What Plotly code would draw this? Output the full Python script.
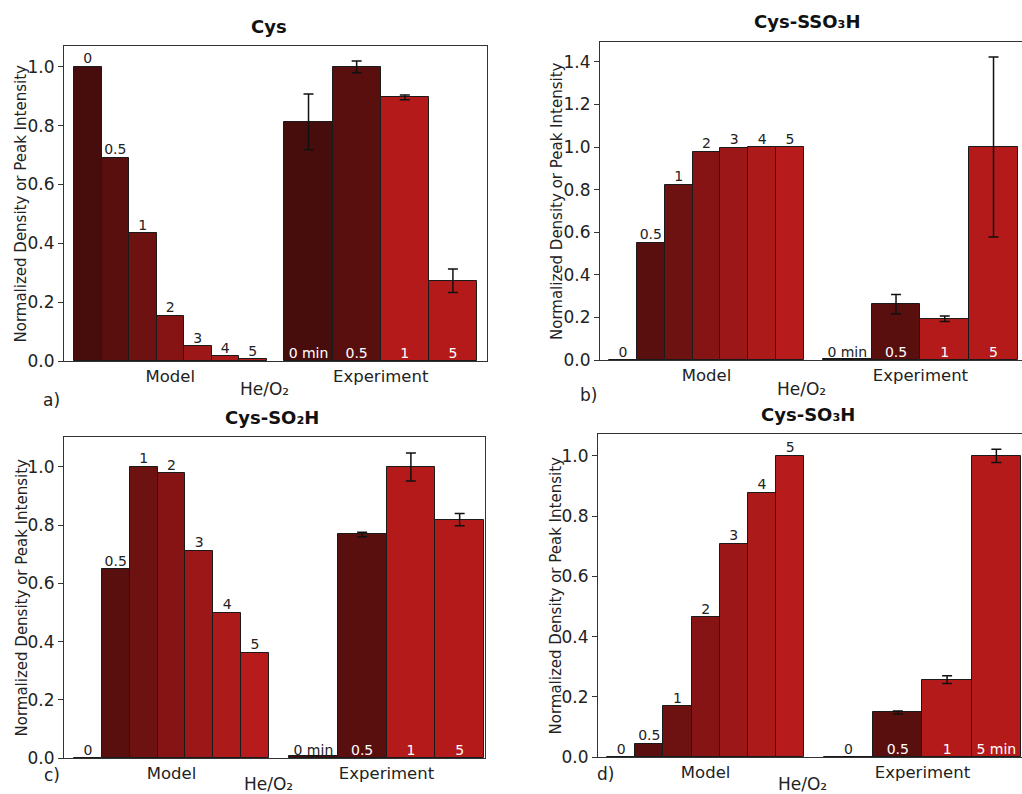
import plotly.graph_objects as go

# ---------------- data ----------------
model_labels = ["0", "0.5", "1", "2", "3", "4", "5"]
exp_labels_abc = ["0 min", "0.5", "1", "5"]
exp_labels_d = ["0", "0.5", "1", "5 min"]
group_labels = ["Model", "Experiment"]

cys_model = [1.0, 0.691, 0.434, 0.154, 0.050, 0.016, 0.006]
cys_exp = [0.813, 1.0, 0.896, 0.273]
cys_err = [0.095, 0.02, 0.008, 0.04]

sso3h_model = [0.0, 0.55, 0.823, 0.978, 0.997, 1.0, 1.0]
sso3h_exp = [0.004, 0.262, 0.194, 1.0]
sso3h_err = [float("nan"), 0.045, 0.013, 0.423]

so2h_model = [0.0, 0.648, 1.0, 0.978, 0.713, 0.499, 0.362]
so2h_exp = [0.008, 0.768, 1.0, 0.819]
so2h_err = [float("nan"), 0.008, 0.048, 0.021]

so3h_model = [0.0, 0.044, 0.168, 0.465, 0.708, 0.878, 1.0]
so3h_exp = [0.0, 0.148, 0.257, 1.0]
so3h_err = [float("nan"), 0.005, 0.013, 0.022]

# ---------------- style ----------------
model_colors = ["#470c0c", "#5a0f0f", "#6d1111", "#861414", "#9c1717", "#ad1a1a", "#b71b1b"]
exp_colors = ["#470c0c", "#5a0f0f", "#b41a1a", "#b41a1a"]
FONT = "DejaVu Sans"
TXT = "#222222"
W, H = 1022, 794


def fx(px):
    return px / W


def fy(py):
    return 1 - py / H


panels = [
    dict(title="Cys", model=cys_model, exp=cys_exp, err=cys_err, elab=exp_labels_abc,
         ymax=1.071, ticks=[0.0, 0.2, 0.4, 0.6, 0.8, 1.0], gap=0.093, xr=[-0.052, 2.145],
         dom_x=(64, 487), dom_y=(46, 361), tpos=(269, 26), letter="a)", lpos=(51, 400),
         hpos=(264, 389), ytx=21),
    dict(title="Cys-SSO₃H", model=sso3h_model, exp=sso3h_exp, err=sso3h_err, elab=exp_labels_abc,
         ymax=1.493, ticks=[0.0, 0.2, 0.4, 0.6, 0.8, 1.0, 1.2, 1.4], gap=0.097, xr=[-0.046, 2.118],
         dom_x=(600, 1022), dom_y=(42, 360), tpos=(807, 22), letter="b)", lpos=(588, 395),
         hpos=(801, 389), ytx=557),
    dict(title="Cys-SO₂H", model=so2h_model, exp=so2h_exp, err=so2h_err, elab=exp_labels_abc,
         ymax=1.103, ticks=[0.0, 0.2, 0.4, 0.6, 0.8, 1.0], gap=0.103, xr=[-0.051, 2.108],
         dom_x=(64, 485), dom_y=(437, 758), tpos=(272, 417), letter="c)", lpos=(52, 775),
         hpos=(268, 784), ytx=21),
    dict(title="Cys-SO₃H", model=so3h_model, exp=so3h_exp, err=so3h_err, elab=exp_labels_d,
         ymax=1.073, ticks=[0.0, 0.2, 0.4, 0.6, 0.8, 1.0], gap=0.10, xr=[-0.046, 2.105],
         dom_x=(598, 1022), dom_y=(434, 757), tpos=(808, 414), letter="d)", lpos=(605, 774),
         hpos=(802, 784), ytx=555),
]

fig = go.Figure()
annotations = []
layout = {}

for k, p in enumerate(panels):
    n = k + 1
    xa = "x" if n == 1 else f"x{n}"
    ya = "y" if n == 1 else f"y{n}"
    nm = len(p["model"])
    ne = len(p["exp"])
    mx = [(i + 0.5) / nm for i in range(nm)]
    ex = [1 + p["gap"] + (j + 0.5) / ne for j in range(ne)]

    fig.add_trace(go.Bar(x=mx, y=p["model"], width=[1 / nm] * nm, xaxis=xa, yaxis=ya,
                         marker=dict(color=model_colors, line=dict(color="#1a1a1a", width=1)),
                         showlegend=False, hoverinfo="skip"))
    fig.add_trace(go.Bar(x=ex, y=p["exp"], width=[1 / ne] * ne, xaxis=xa, yaxis=ya,
                         marker=dict(color=exp_colors, line=dict(color="#1a1a1a", width=1)),
                         error_y=dict(type="data", array=p["err"], visible=True,
                                      color="#111111", thickness=1.5, width=5),
                         showlegend=False, hoverinfo="skip"))
    # model labels above bars
    fig.add_trace(go.Scatter(x=mx, y=p["model"], text=model_labels, mode="text",
                             textposition="top center", xaxis=xa, yaxis=ya,
                             textfont=dict(family=FONT, size=14, color=TXT),
                             showlegend=False, hoverinfo="skip", cliponaxis=False))
    # experiment labels inside bottom of bars
    ecol = ["white" if v > 0.05 else TXT for v in p["exp"]]
    fig.add_trace(go.Scatter(x=ex, y=[0] * ne, text=p["elab"], mode="text",
                             textposition="top center", xaxis=xa, yaxis=ya,
                             textfont=dict(family=FONT, size=14, color=ecol),
                             showlegend=False, hoverinfo="skip", cliponaxis=False))

    xkey = "xaxis" if n == 1 else f"xaxis{n}"
    ykey = "yaxis" if n == 1 else f"yaxis{n}"
    layout[xkey] = dict(domain=[fx(p["dom_x"][0]), fx(p["dom_x"][1])], range=p["xr"],
                        anchor=ya, showgrid=False, zeroline=False, showline=True,
                        linecolor="#333333", linewidth=1, mirror=True, ticks="",
                        tickvals=[0.5, 1 + p["gap"] + 0.5], ticktext=group_labels,
                        automargin=False,
                        tickfont=dict(family=FONT, size=16.5, color=TXT))
    layout[ykey] = dict(domain=[fy(p["dom_y"][1]), fy(p["dom_y"][0])], range=[0, p["ymax"]],
                        anchor=xa, showgrid=False, zeroline=False, showline=True,
                        linecolor="#333333", linewidth=1, mirror=True, ticks="outside",
                        ticklen=5, tickcolor="#333333", tickvals=p["ticks"],
                        ticktext=[f"{t:.1f}" for t in p["ticks"]], ticklabelstandoff=0,
                        automargin=False,
                        tickfont=dict(family=FONT, size=17, color=TXT))
    # right-side inward ticks
    rkey = f"yaxis{n + 4}"
    layout[rkey] = dict(overlaying=ya, anchor=xa, side="right", range=[0, p["ymax"]],
                        showgrid=False, zeroline=False, showline=False, ticks="inside",
                        ticklen=5, tickcolor="#333333", tickvals=p["ticks"],
                        automargin=False, showticklabels=False)

    annotations.append(dict(text=f"<b>{p['title']}</b>", x=fx(p["tpos"][0]), y=fy(p["tpos"][1]),
                            xref="paper", yref="paper", showarrow=False, xanchor="center",
                            yanchor="middle", font=dict(family=FONT, size=18, color="#111111")))
    annotations.append(dict(text=p["letter"], x=fx(p["lpos"][0]), y=fy(p["lpos"][1]),
                            xref="paper", yref="paper", showarrow=False, xanchor="center",
                            yanchor="middle", font=dict(family=FONT, size=17, color=TXT)))
    annotations.append(dict(text="He/O₂", x=fx(p["hpos"][0]), y=fy(p["hpos"][1]),
                            xref="paper", yref="paper", showarrow=False, xanchor="center",
                            yanchor="middle", font=dict(family=FONT, size=17, color=TXT)))
    ymid = (p["dom_y"][0] + p["dom_y"][1]) / 2
    annotations.append(dict(text="Normalized Density or Peak Intensity", x=fx(p["ytx"]),
                            y=fy(ymid), xref="paper", yref="paper", showarrow=False,
                            textangle=-90, xanchor="center", yanchor="middle",
                            font=dict(family=FONT, size=15, color=TXT)))

fig.update_layout(**layout)
fig.update_layout(width=W, height=H, margin=dict(l=0, r=0, t=0, b=0, autoexpand=False),
                  paper_bgcolor="white", plot_bgcolor="white", bargap=0,
                  annotations=annotations, showlegend=False)

fig.write_html("out.html", config={"displayModeBar": False},
               post_script="document.body.style.margin='0';document.body.style.overflow='hidden';")
